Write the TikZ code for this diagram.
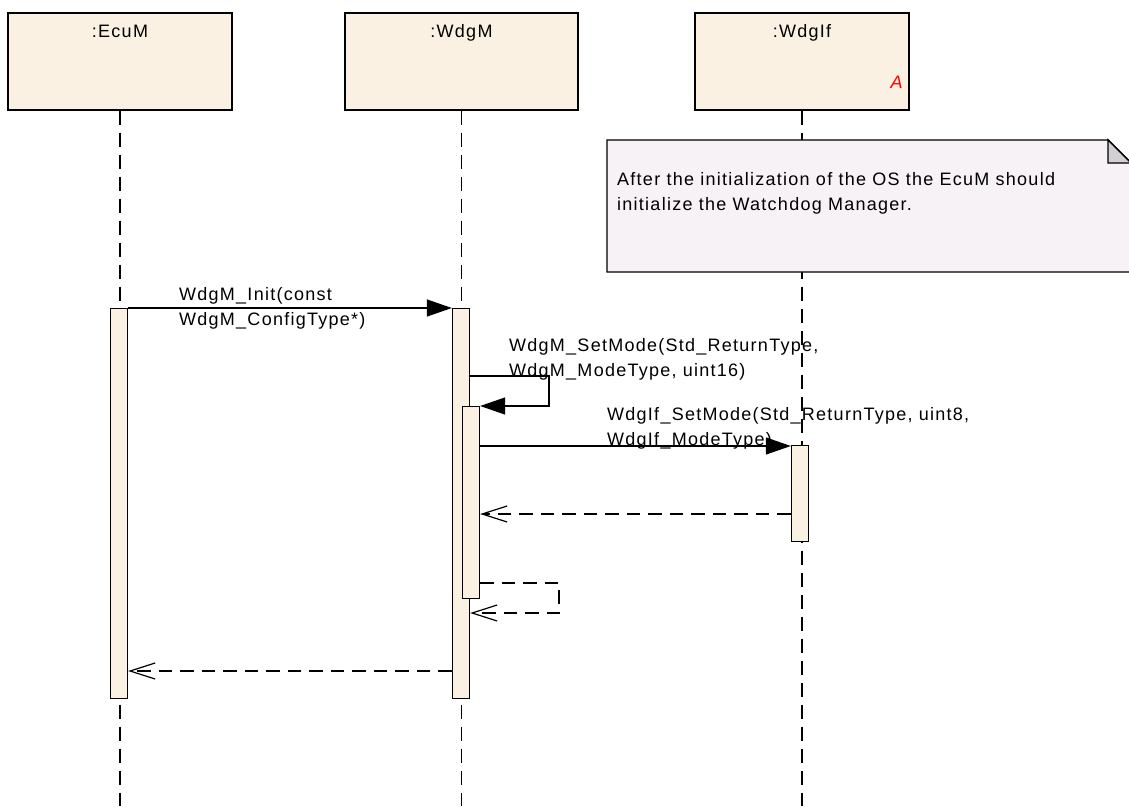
\documentclass[tikz,border=0pt]{standalone}
\usepackage{fontspec}
\setmainfont[LetterSpace=7]{Liberation Sans}
\usetikzlibrary{arrows.meta}
\definecolor{lifefill}{RGB}{251,241,227}
\definecolor{notefill}{RGB}{246,242,246}
\definecolor{foldfill}{RGB}{211,207,211}
\tikzset{
  obj/.style={draw,line width=1.6pt,fill=lifefill,inner sep=0pt,minimum width=#1,minimum height=97pt,anchor=north},
  bar/.style={draw,line width=1.3pt,fill=lifefill,inner sep=0pt,minimum width=17pt,minimum height=#1,anchor=north},
  life/.style={line width=1.9pt,dash pattern=on 14pt off 8pt},
  call/.style={line width=1.2pt,-{Triangle[length=25pt,width=17pt]}},
  reply/.style={line width=1.2pt,dash pattern=on 13.5pt off 8pt,-{Straight Barb[length=25pt,width=16pt,line width=1.2pt]}},
  msg/.style={anchor=base west,align=left,inner sep=0pt},
}
\begin{document}
\begin{tikzpicture}[x=1pt,y=-1pt,font=\fontsize{18}{24.5}\selectfont]
\useasboundingbox (0,0) rectangle (1129,806);
\coordinate (bottom) at (0,806);
% objects
\node[obj=224pt] (ecum) at (120,12) {};
\node[obj=233pt] (wdgm) at (461.5,12) {};
\node[obj=214pt] (wdgif) at (802,12) {};
\node[anchor=base] (ecumname) at ([yshift=-25pt]ecum.north) {:EcuM};
\node[anchor=base] (wdgmname) at ([yshift=-25pt]wdgm.north) {:WdgM};
\node[anchor=base] (wdgifname) at ([yshift=-25pt]wdgif.north) {:WdgIf};
\node[anchor=base east,inner sep=0pt,text=red] (abstr) at (904,88) {\textit{A}};
% lifelines
\draw[life] (ecum.south) -- (ecum.south |- bottom);
\draw[life] (wdgm.south) -- (wdgm.south |- bottom);
\draw[life] (wdgif.south) -- (wdgif.south |- bottom);
% note
\draw[line width=1.4pt,fill=notefill] (607,140) -- (1108,140) -- (1131,163) -- (1131,272) -- (607,272) -- cycle;
\draw[line width=1.4pt,fill=foldfill] (1108,140) -- (1108,163) -- (1131,163) -- cycle;
\node[msg] (notetext) at (617,210) {After the initialization of the OS the EcuM should\\initialize the Watchdog Manager.};
% activations
\node[bar=390pt] (ecubar) at (119,308) {};
\node[bar=390pt] (wdgmbar) at (461,308) {};
\node[bar=192pt] (nestbar) at (471,406) {};
\node[bar=96pt] (ifbar) at (800,445) {};
% messages
\coordinate (yself) at (549,376);
\coordinate (yif) at (0,446);
\coordinate (yret) at (0,514);
\coordinate (yback) at (559,583);
\coordinate (yback2) at (559,613);
\coordinate (yend) at (0,671);
\draw[call] (ecubar.north east) -- (wdgmbar.north west);
\draw[call] (wdgmbar.east |- yself) -- (yself) -- (yself |- nestbar.north) -- (nestbar.north east);
\draw[call] (nestbar.east |- yif) -- (ifbar.west |- yif);
\draw[reply] (ifbar.west |- yret) -- (nestbar.east |- yret);
\draw[reply] (nestbar.east |- yback) -- (yback) -- (yback2) -- (wdgmbar.east |- yback2);
\draw[reply] (wdgmbar.west |- yend) -- (ecubar.east |- yend);
\node[msg] (initlabel) at (179,325) {WdgM\_Init(const\\WdgM\_ConfigType*)};
\node[msg] (setlabel) at (509,376) {WdgM\_SetMode(Std\_ReturnType,\\WdgM\_ModeType, uint16)};
\node[msg] (iflabel) at (607,445) {WdgIf\_SetMode(Std\_ReturnType, uint8,\\WdgIf\_ModeType)};
\end{tikzpicture}
\end{document}
